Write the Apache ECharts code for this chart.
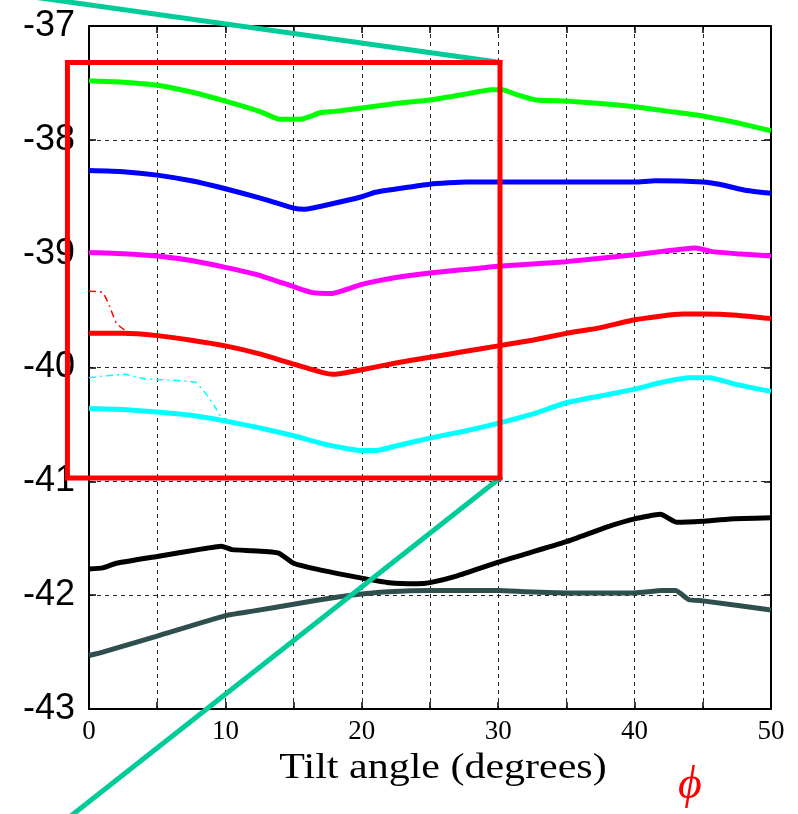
<!DOCTYPE html>
<html>
<head>
<meta charset="utf-8">
<script src="https://cdn.jsdelivr.net/npm/echarts/dist/echarts.min.js"></script>
<style>
  html, body { margin: 0; padding: 0; background: #ffffff; }
  #chart { width: 798px; height: 814px; }
</style>
</head>
<body>
<div id="chart"></div>
<script>
// Energy curves versus tilt angle, one [tilt, value] list per curve
const greenCurve = [[0,-37.48],[2,-37.49],[5,-37.52],[7.5,-37.58],[10,-37.66],[12.5,-37.75],[14,-37.82],[15.5,-37.82],[17,-37.76],[18,-37.75],[20,-37.72],[22.5,-37.68],[25,-37.65],[27.5,-37.60],[29.5,-37.56],[30.3,-37.56],[31.3,-37.60],[32.8,-37.65],[35,-37.66],[37.5,-37.68],[40,-37.71],[42.5,-37.75],[45,-37.79],[47.5,-37.85],[50,-37.92]];
const blueCurve = [[0,-38.27],[2.5,-38.28],[5,-38.31],[7.5,-38.36],[10,-38.43],[12.5,-38.51],[15,-38.60],[15.8,-38.61],[17.5,-38.57],[20,-38.50],[21,-38.46],[25,-38.39],[27.7,-38.37],[30,-38.37],[35,-38.37],[40,-38.37],[41.5,-38.36],[45,-38.37],[46.2,-38.39],[48,-38.44],[50,-38.47]];
const magentaCurve = [[0,-38.99],[2.5,-39.00],[5,-39.02],[7.5,-39.06],[10,-39.12],[12.5,-39.19],[15,-39.29],[16.3,-39.34],[17.8,-39.35],[20,-39.27],[22.5,-39.21],[25,-39.17],[27.5,-39.14],[30,-39.11],[35,-39.07],[40,-39.01],[44.5,-38.95],[45.6,-38.98],[47.5,-39.00],[50,-39.02]];
const redCurve = [[0,-39.70],[2.5,-39.70],[5,-39.72],[7.5,-39.76],[10,-39.81],[12.5,-39.88],[15,-39.97],[17,-40.04],[18,-40.06],[20,-40.02],[22.5,-39.96],[25,-39.91],[27.5,-39.86],[30,-39.81],[32.5,-39.76],[35,-39.70],[37.5,-39.65],[40,-39.58],[43.5,-39.53],[45,-39.53],[47.5,-39.54],[50,-39.57]];
const redBranch = [[0,-39.33],[1.0,-39.34],[1.5,-39.46],[2.0,-39.61],[2.6,-39.67],[3.0,-39.70]];
const cyanCurve = [[0,-40.36],[2.5,-40.37],[5,-40.39],[7.5,-40.42],[10,-40.47],[12.5,-40.53],[15,-40.60],[17.5,-40.68],[20,-40.73],[21,-40.73],[22.5,-40.69],[25,-40.62],[27.5,-40.56],[30,-40.49],[32.5,-40.41],[35,-40.31],[37.5,-40.25],[40,-40.19],[42,-40.13],[44,-40.09],[45.5,-40.09],[47.5,-40.15],[50,-40.21]];
const cyanBranch = [[0,-40.09],[2.6,-40.06],[4.1,-40.10],[5.8,-40.11],[7.8,-40.13],[8.5,-40.22],[9.2,-40.34],[9.7,-40.44]];
const blackCurve = [[0,-41.77],[1,-41.76],[2,-41.72],[5,-41.66],[8,-41.60],[9.7,-41.57],[10.5,-41.60],[12,-41.61],[13.9,-41.63],[15,-41.72],[17,-41.78],[20,-41.85],[22,-41.89],[24,-41.90],[25,-41.89],[27,-41.83],[30,-41.71],[35,-41.53],[38,-41.40],[40,-41.33],[41.9,-41.29],[43.1,-41.36],[45,-41.35],[47,-41.33],[50,-41.32]];
const slateCurve = [[0,-42.53],[1,-42.50],[5,-42.36],[10,-42.18],[12,-42.14],[15,-42.08],[18,-42.02],[20,-41.99],[22,-41.97],[25,-41.96],[30,-41.96],[32,-41.97],[35,-41.98],[40,-41.98],[42,-41.96],[43,-41.96],[44,-42.04],[45,-42.05],[50,-42.13]];

// Zoom box and its two connector lines, in axis units
const zoomBox = [[-1.58,-37.32],[30.13,-37.32],[30.13,-40.97],[-1.58,-40.97],[-1.58,-37.32]];
const connectorTop = [[-3.8,-36.75],[30.13,-37.32]];
const connectorBottom = [[30.13,-40.97],[-2.5,-44.05]];

const xTitle = 'Tilt angle (degrees)';
const phiLabel = 'ϕ';

function curve(data, color, width, dash) {
  return {
    type: 'line', data: data, showSymbol: false, symbol: 'none',
    smooth: 0.15, silent: true, z: 3,
    lineStyle: { color: color, width: width, type: dash || 'solid' }
  };
}

const chart = echarts.init(document.getElementById('chart'), null, { renderer: 'canvas' });

const frameLine = { show: true, onZero: false, lineStyle: { color: '#000', width: 2 } };
const frameTick = { show: true, inside: true, length: 7, lineStyle: { color: '#000', width: 1.5 } };
const gridDash = { show: true, lineStyle: { color: '#222', type: [4, 4], width: 1 } };

chart.setOption({
  animation: false,
  backgroundColor: '#ffffff',
  grid: { left: 89, right: 27, top: 26, bottom: 105, containLabel: false },
  xAxis: [
    {
      type: 'value', min: 0, max: 50, interval: 5, position: 'bottom',
      axisLine: frameLine, axisTick: frameTick, splitLine: gridDash,
      axisLabel: {
        formatter: v => (v % 10 === 0 ? String(v) : ''),
        fontFamily: 'Liberation Serif', fontSize: 27, color: '#000', margin: 9
      }
    },
    {
      type: 'value', min: 0, max: 50, interval: 5, position: 'top',
      axisLine: frameLine, axisTick: frameTick, splitLine: { show: false },
      axisLabel: { show: false }
    }
  ],
  yAxis: [
    {
      type: 'value', min: -43, max: -37, interval: 1, position: 'left',
      axisLine: frameLine, axisTick: frameTick, splitLine: gridDash,
      axisLabel: { fontFamily: 'Liberation Sans', fontSize: 36, color: '#000', margin: 14 }
    },
    {
      type: 'value', min: -43, max: -37, interval: 1, position: 'right',
      axisLine: frameLine, axisTick: frameTick, splitLine: { show: false },
      axisLabel: { show: false }
    }
  ],
  series: [
    curve(greenCurve, '#00ff00', 5),
    curve(blueCurve, '#0000ff', 5),
    curve(magentaCurve, '#ff00ff', 5),
    curve(redCurve, '#ff0000', 5),
    curve(redBranch, '#ff0000', 1.5, [7, 4, 2, 4]),
    curve(cyanCurve, '#00ffff', 5),
    curve(cyanBranch, '#00ffff', 1.5, [7, 4, 2, 4]),
    curve(blackCurve, '#000000', 5),
    curve(slateCurve, '#2f4f4f', 5)
  ]
});

// The zoom box and connectors reach past the axes, so they are drawn as
// graphic polylines placed through the chart's own coordinate conversion.
function toPixels(points) {
  return points.map(p => chart.convertToPixel({ xAxisIndex: 0, yAxisIndex: 0 }, p));
}
function polyline(points, color) {
  return {
    type: 'polyline', z: 20, silent: true,
    shape: { points: toPixels(points) },
    style: { stroke: color, lineWidth: 5, fill: null, lineJoin: 'miter', lineCap: 'square' }
  };
}

chart.setOption({
  graphic: [
    polyline(connectorTop, '#00cc99'),
    polyline(connectorBottom, '#00cc99'),
    polyline(zoomBox, '#ff0000'),
    {
      type: 'text', x: 443, y: 769, scaleX: 1.2, z: 30,
      style: {
        text: xTitle, font: '35px "Liberation Serif"', fill: '#000',
        textAlign: 'center', textVerticalAlign: 'middle'
      }
    },
    {
      type: 'text', x: 690, y: 786, z: 30,
      style: {
        text: phiLabel, font: 'italic 46px "Liberation Serif"', fill: '#ff0000',
        textAlign: 'center', textVerticalAlign: 'middle'
      }
    }
  ]
});
</script>
</body>
</html>
